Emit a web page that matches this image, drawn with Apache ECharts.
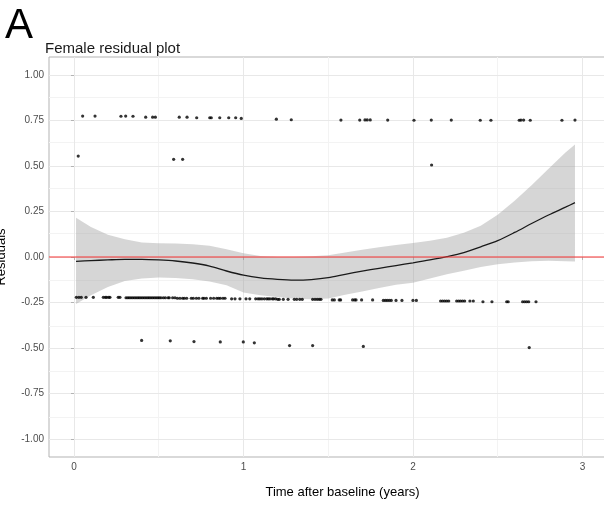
<!DOCTYPE html>
<html>
<head>
<meta charset="utf-8">
<script src="https://cdn.jsdelivr.net/npm/echarts@6/dist/echarts.min.js"></script>
<style>
  html, body { margin: 0; padding: 0; background: #fff; }
  #chart { width: 604px; height: 506px; }
</style>
</head>
<body>
<div id="chart"></div>
<script>
// Residuals of the female model: upper band (observed = 1)
const upperRow = [
  [0.051,0.775],[0.124,0.775],[0.277,0.774],[0.305,0.775],[0.348,0.774],[0.423,0.769],
  [0.464,0.769],[0.480,0.769],[0.621,0.769],[0.667,0.769],[0.724,0.766],[0.801,0.766],
  [0.810,0.766],[0.860,0.766],[0.913,0.766],[0.954,0.766],[0.987,0.762],[1.194,0.758],
  [1.282,0.755],[1.575,0.753],[1.686,0.753],[1.717,0.754],[1.730,0.754],[1.748,0.754],
  [1.851,0.753],[2.006,0.752],[2.108,0.753],[2.226,0.753],[2.397,0.752],[2.460,0.752],
  [2.627,0.752],[2.637,0.753],[2.653,0.753],[2.692,0.752],[2.879,0.752],[2.956,0.753]
];

// Residuals of the female model: lower band (observed = 0)
const lowerRow = [
  [0.014,-0.222],[0.029,-0.222],[0.043,-0.222],[0.071,-0.222],[0.114,-0.222],[0.173,-0.222],
  [0.185,-0.222],[0.193,-0.222],[0.205,-0.222],[0.212,-0.222],[0.261,-0.222],[0.271,-0.222],
  [0.307,-0.224],[0.317,-0.224],[0.326,-0.224],[0.336,-0.224],[0.346,-0.224],[0.356,-0.224],
  [0.366,-0.224],[0.376,-0.224],[0.385,-0.224],[0.395,-0.224],[0.405,-0.224],[0.415,-0.224],
  [0.425,-0.224],[0.435,-0.224],[0.444,-0.224],[0.454,-0.224],[0.464,-0.224],[0.474,-0.224],
  [0.484,-0.224],[0.494,-0.224],[0.503,-0.224],[0.513,-0.224],[0.527,-0.224],[0.539,-0.224],
  [0.555,-0.224],[0.562,-0.224],[0.582,-0.224],[0.596,-0.224],
  [0.610,-0.227],[0.625,-0.227],[0.641,-0.227],[0.651,-0.227],[0.665,-0.227],[0.692,-0.227],
  [0.704,-0.227],[0.722,-0.227],[0.737,-0.227],[0.759,-0.227],[0.767,-0.227],[0.781,-0.227],
  [0.806,-0.227],[0.824,-0.227],[0.842,-0.227],[0.853,-0.227],[0.863,-0.227],[0.879,-0.227],
  [0.891,-0.227],
  [0.930,-0.230],[0.950,-0.230],[0.979,-0.230],[1.015,-0.230],[1.037,-0.230],[1.072,-0.230],
  [1.086,-0.230],[1.097,-0.230],[1.109,-0.230],[1.123,-0.230],[1.137,-0.230],[1.146,-0.230],
  [1.156,-0.230],[1.170,-0.230],[1.178,-0.230],[1.190,-0.230],
  [1.202,-0.233],[1.211,-0.233],[1.235,-0.233],[1.263,-0.233],[1.300,-0.233],[1.314,-0.233],
  [1.332,-0.233],[1.347,-0.233],[1.408,-0.233],[1.422,-0.233],[1.435,-0.233],[1.447,-0.233],
  [1.457,-0.233],
  [1.524,-0.236],[1.536,-0.236],[1.565,-0.236],[1.573,-0.236],[1.644,-0.236],[1.656,-0.236],
  [1.664,-0.236],[1.697,-0.236],[1.762,-0.236],
  [1.825,-0.239],[1.837,-0.239],[1.848,-0.239],[1.860,-0.239],[1.872,-0.239],[1.900,-0.239],
  [1.935,-0.239],[2.000,-0.239],[2.020,-0.239],
  [2.163,-0.242],[2.175,-0.242],[2.187,-0.242],[2.199,-0.242],[2.211,-0.242],[2.258,-0.242],
  [2.270,-0.242],[2.281,-0.242],[2.293,-0.242],[2.305,-0.242],[2.336,-0.242],[2.356,-0.242],
  [2.413,-0.246],[2.466,-0.246],[2.553,-0.246],[2.562,-0.246],[2.647,-0.246],[2.659,-0.246],
  [2.671,-0.246],[2.683,-0.246],[2.726,-0.246]
];

// Residuals of the second risk group
const groupTwoHigh = [[0.025,0.555],[0.588,0.537],[0.641,0.537],[2.110,0.506]];
const groupTwoLow = [
  [0.399,-0.459],[0.568,-0.461],[0.708,-0.465],[0.863,-0.467],[0.999,-0.467],
  [1.064,-0.472],[1.272,-0.487],[1.408,-0.487],[1.707,-0.492],[2.686,-0.498]
];

// Loess smooth with its 95% confidence band
const fitX  = [0.012,0.1,0.2,0.3,0.4,0.5,0.6,0.7,0.8,0.9,1.0,1.1,1.2,1.3,1.4,1.5,1.6,1.7,1.8,1.9,2.0,2.1,2.2,2.3,2.4,2.5,2.6,2.7,2.8,2.9,2.956];
const fitY  = [-0.024,-0.020,-0.016,-0.013,-0.013,-0.016,-0.022,-0.033,-0.050,-0.077,-0.100,-0.115,-0.123,-0.127,-0.124,-0.114,-0.095,-0.078,-0.062,-0.047,-0.032,-0.016,0.002,0.024,0.056,0.090,0.135,0.184,0.231,0.274,0.299];
const fitHi = [0.216,0.165,0.123,0.098,0.080,0.076,0.074,0.070,0.062,0.042,0.020,0.006,0.002,0.002,0.004,0.010,0.025,0.040,0.054,0.066,0.077,0.090,0.106,0.133,0.172,0.232,0.310,0.395,0.485,0.575,0.619];
const fitLo = [-0.258,-0.210,-0.165,-0.132,-0.118,-0.113,-0.115,-0.122,-0.135,-0.155,-0.195,-0.210,-0.220,-0.230,-0.232,-0.228,-0.208,-0.190,-0.170,-0.152,-0.141,-0.118,-0.095,-0.075,-0.055,-0.040,-0.030,-0.023,-0.021,-0.023,-0.025];

// Axis ticks and grid
const xTicks = [0, 1, 2, 3];
const xMinorTicks = [0.5, 1.5, 2.5];
const yTicks = [-1, -0.75, -0.5, -0.25, 0, 0.25, 0.5, 0.75, 1];
const yMinorTicks = [-0.875, -0.625, -0.375, -0.125, 0.125, 0.375, 0.625, 0.875];

const FONT = '"Liberation Sans", Arial, Helvetica, sans-serif';
const residuals = upperRow.concat(lowerRow, groupTwoHigh, groupTwoLow);

const chart = echarts.init(document.getElementById('chart'), null, { renderer: 'canvas' });

const gridLines = [];
xMinorTicks.forEach(v => gridLines.push({ xAxis: v, lineStyle: { color: '#f3f3f3', width: 1 } }));
yMinorTicks.forEach(v => gridLines.push({ yAxis: v, lineStyle: { color: '#f3f3f3', width: 1 } }));
xTicks.forEach(v => gridLines.push({ xAxis: v, lineStyle: { color: '#e8e8e8', width: 1 } }));
yTicks.forEach(v => gridLines.push({ yAxis: v, lineStyle: { color: '#e8e8e8', width: 1 } }));

// Confidence band as one polygon: upper edge left to right, lower edge back
function renderBand(params, api) {
  const pts = [];
  for (let i = 0; i < fitX.length; i++) pts.push(api.coord([fitX[i], fitHi[i]]));
  for (let i = fitX.length - 1; i >= 0; i--) pts.push(api.coord([fitX[i], fitLo[i]]));
  return {
    type: 'polygon',
    shape: { points: pts, smooth: 0 },
    style: { fill: 'rgba(153,153,153,0.4)', stroke: 'none' }
  };
}

chart.setOption({
  animation: false,
  backgroundColor: '#ffffff',
  graphic: [
    { type: 'text', left: 5, top: 5, style: { text: 'A', font: '42px ' + FONT, fill: '#000' } },
    { type: 'text', left: 45, top: 41, style: { text: 'Female residual plot', font: '15px ' + FONT, fill: '#1a1a1a' } }
  ],
  grid: {
    left: 49, right: -32, top: 57, bottom: 49,
    outerBoundsMode: 'none', containLabel: false,
    show: true, borderColor: '#b3b3b3', borderWidth: 1, backgroundColor: 'transparent'
  },
  xAxis: {
    type: 'value', min: -0.1475, max: 3.316,
    name: 'Time after baseline (years)', nameLocation: 'middle', nameGap: 29,
    nameTextStyle: { fontFamily: FONT, fontSize: 13, color: '#000' },
    axisLine: { show: false },
    axisTick: { show: true, customValues: xTicks, length: 3, lineStyle: { color: '#b3b3b3' } },
    axisLabel: { customValues: xTicks, margin: 5, fontFamily: FONT, fontSize: 10, color: '#4d4d4d',
                 formatter: v => String(v) },
    splitLine: { show: false }
  },
  yAxis: {
    type: 'value', min: -1.1, max: 1.1,
    name: 'Residuals', nameLocation: 'middle', nameGap: 41, nameRotate: 90,
    nameTextStyle: { fontFamily: FONT, fontSize: 13, color: '#000' },
    axisLine: { show: false },
    axisTick: { show: true, customValues: yTicks, length: 3, lineStyle: { color: '#b3b3b3' } },
    axisLabel: { customValues: yTicks, margin: 5, fontFamily: FONT, fontSize: 10, color: '#4d4d4d',
                 formatter: v => v.toFixed(2) },
    splitLine: { show: false }
  },
  series: [
    {
      name: 'grid', type: 'line', data: [], silent: true, z: 0,
      markLine: { z: 0, silent: true, symbol: 'none', label: { show: false }, animation: false,
                  lineStyle: { type: 'solid' }, data: gridLines }
    },
    {
      name: 'ci', type: 'custom', silent: true, z: 1,
      renderItem: renderBand,
      data: [0]
    },
    {
      name: 'residuals', type: 'scatter', symbol: 'circle', symbolSize: 3.2, z: 2,
      itemStyle: { color: '#000' },
      data: residuals
    },
    {
      name: 'loess', type: 'line', symbol: 'none', smooth: 0.3, z: 3,
      lineStyle: { color: '#1a1a1a', width: 1.3 },
      data: fitX.map((x, i) => [x, fitY[i]])
    },
    {
      name: 'zero', type: 'line', data: [], z: 4, silent: true,
      markLine: { z: 5, silent: true, symbol: 'none', label: { show: false }, animation: false,
                  lineStyle: { type: 'solid', color: 'rgba(245,60,60,0.7)', width: 1.6 },
                  data: [{ yAxis: 0 }] }
    }
  ]
});
</script>
</body>
</html>
